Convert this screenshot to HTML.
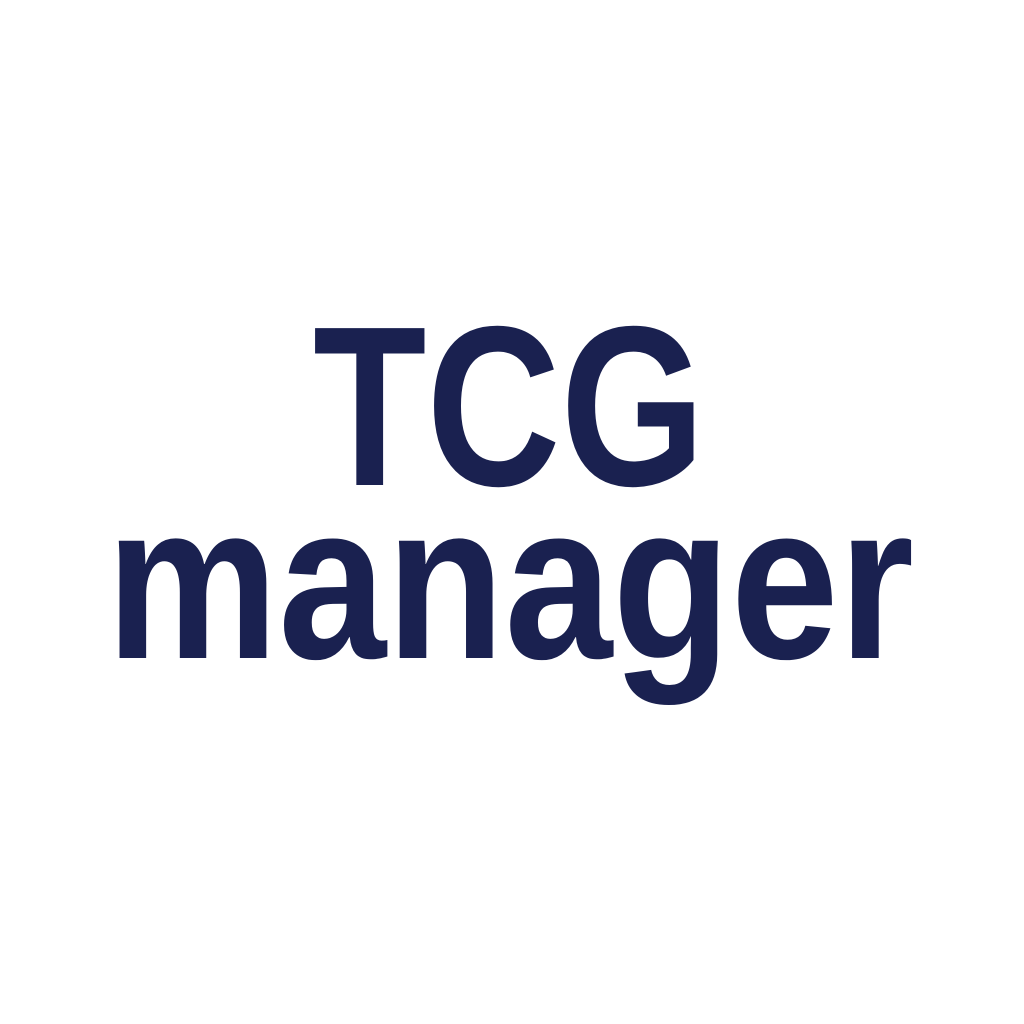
<!DOCTYPE html>
<html>
<head>
<meta charset="utf-8">
<style>
  html,body{margin:0;padding:0;background:#ffffff;}
  svg{display:block;}
</style>
</head>
<body>
<svg width="1024" height="1024" viewBox="0 0 1024 1024">
  <rect x="0" y="0" width="1024" height="1024" fill="#ffffff"/>
  <text x="313" y="485" font-family="'Liberation Sans', sans-serif" font-weight="bold" font-size="228" fill="#1a2150" textLength="392" lengthAdjust="spacingAndGlyphs">TCG</text>
  <text x="106" y="658" font-family="'Liberation Sans', sans-serif" font-weight="bold" font-size="222" fill="#1a2150" textLength="808" lengthAdjust="spacingAndGlyphs">manager</text>
</svg>
</body>
</html>
